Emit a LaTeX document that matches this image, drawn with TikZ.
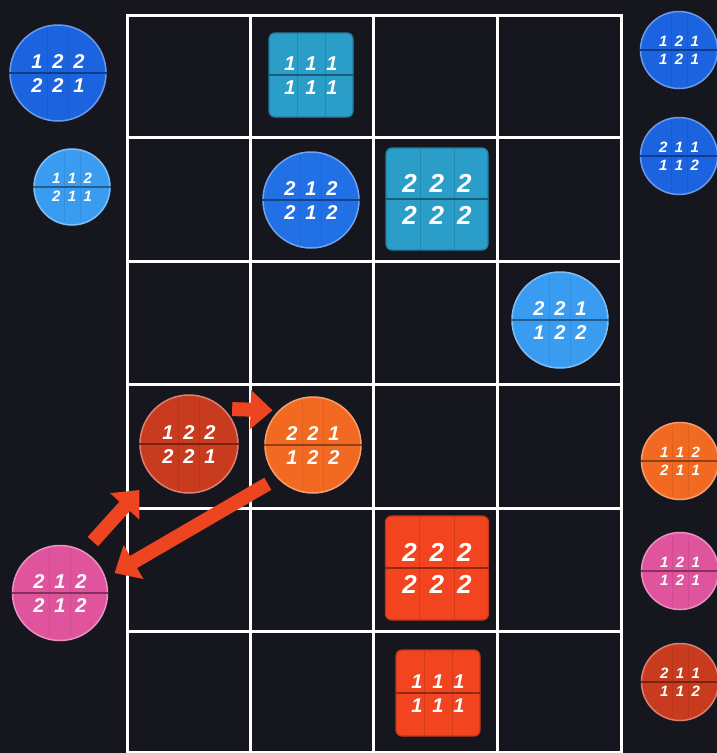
\documentclass[tikz,border=0pt]{standalone}
\usepackage{fontspec}
\setmainfont{Liberation Sans}
\usetikzlibrary{arrows.meta}
\definecolor{bg}{HTML}{16161F}
\definecolor{dblue}{HTML}{1C63E0}
\definecolor{lblue}{HTML}{3A9CF0}
\definecolor{mblue}{HTML}{2170E6}
\definecolor{tealtok}{HTML}{2A9DC8}
\definecolor{redtok}{HTML}{C93B1F}
\definecolor{orangetok}{HTML}{F26A22}
\definecolor{redsq}{HTML}{F2441F}
\definecolor{pinktok}{HTML}{E0549E}
\definecolor{arrowc}{HTML}{EE4521}
\newcommand\dgt[3]{\makebox[1.05em]{#1}\makebox[1.05em]{#2}\makebox[1.05em]{#3}}
\tikzset{
  gridl/.style={draw=white, line width=3pt},
  tokc/.style={circle, line width=1.5pt, inner sep=0pt},
  toks/.style={rectangle, rounded corners=6pt, line width=1.2pt, inner sep=0pt},
  dig/.style={text=white, inner sep=0pt},
  arr/.style={draw=arrowc, line width=14pt, -{Triangle[width=38pt,length=22pt]}},
}
% circle token: name, (x,y), diameter, colour, top, bottom, font size
\newcommand\ctok[7]{%
  \node[tokc, fill=#4, draw=#4!65!white, minimum size=#3] (#1) at #2 {};
  \draw[#4!60!black, line width=0.6pt, opacity=.2, shorten <=4pt, shorten >=4pt]
    ([xshift=-#7*0.52pt]#1.north) -- ([xshift=-#7*0.52pt]#1.south);
  \draw[#4!60!black, line width=0.6pt, opacity=.2, shorten <=4pt, shorten >=4pt]
    ([xshift=#7*0.52pt]#1.north) -- ([xshift=#7*0.52pt]#1.south);
  \draw[#4!60!black, line width=1.8pt] (#1.west) -- (#1.east);
  \node[dig, font=\fontsize{#7}{#7}\selectfont\bfseries\itshape, anchor=base, yshift=0.25*#7pt] (#1-t) at (#1.center) {\dgt#5};
  \node[dig, font=\fontsize{#7}{#7}\selectfont\bfseries\itshape, anchor=base, yshift=-0.98*#7pt] (#1-b) at (#1.center) {\dgt#6};
}
% square token: name, (x,y), width, height, colour, top, bottom, font size
\newcommand\stok[8]{%
  \node[toks, fill=#5, draw=#5!80!black, minimum width=#3, minimum height=#4] (#1) at #2 {};
  \draw[#5!60!black, line width=0.8pt, opacity=.3]
    ([xshift=-#3/6]#1.north) -- ([xshift=-#3/6]#1.south);
  \draw[#5!60!black, line width=0.8pt, opacity=.3]
    ([xshift=#3/6]#1.north) -- ([xshift=#3/6]#1.south);
  \draw[#5!60!black, line width=2pt] (#1.west) -- (#1.east);
  \node[dig, font=\fontsize{#8}{#8}\selectfont\bfseries\itshape, anchor=base, yshift=0.25*#8pt] (#1-t) at (#1.center) {\dgt#6};
  \node[dig, font=\fontsize{#8}{#8}\selectfont\bfseries\itshape, anchor=base, yshift=-0.98*#8pt] (#1-b) at (#1.center) {\dgt#7};
}
\begin{document}
\begin{tikzpicture}[x=1pt, y=-1pt]
\fill[bg] (0,0) rectangle (717,753);
\useasboundingbox (0,0) rectangle (717,753);
% grid
\draw[gridl] (127,15) rectangle (621,752);
\foreach \gx in {250,373,497} \draw[gridl] (\gx,15) -- (\gx,752);
\foreach \gy in {137,261,384,508,631} \draw[gridl] (127,\gy) -- (621,\gy);
% left tokens
\ctok{L1}{(58,73)}{96pt}{dblue}{{1}{2}{2}}{{2}{2}{1}}{20}
\ctok{L2}{(72,187)}{76pt}{lblue}{{1}{1}{2}}{{2}{1}{1}}{15}
\ctok{P1}{(60,593)}{95pt}{pinktok}{{2}{1}{2}}{{2}{1}{2}}{20}
% board tokens
\stok{T1}{(311,75)}{84pt}{84pt}{tealtok}{{1}{1}{1}}{{1}{1}{1}}{20}
\ctok{C1}{(311,200)}{96pt}{mblue}{{2}{1}{2}}{{2}{1}{2}}{20}
\stok{T2}{(437,199)}{102pt}{102pt}{tealtok}{{2}{2}{2}}{{2}{2}{2}}{26}
\ctok{C2}{(560,320)}{96pt}{lblue}{{2}{2}{1}}{{1}{2}{2}}{20}
\ctok{R1}{(189,444)}{98pt}{redtok}{{1}{2}{2}}{{2}{2}{1}}{20}
\ctok{O1}{(313,445)}{96pt}{orangetok}{{2}{2}{1}}{{1}{2}{2}}{20}
\stok{S1}{(437,568)}{103pt}{104pt}{redsq}{{2}{2}{2}}{{2}{2}{2}}{26}
\stok{S2}{(438,693)}{84pt}{86pt}{redsq}{{1}{1}{1}}{{1}{1}{1}}{20}
% right tokens
\ctok{Q1}{(679,50)}{77pt}{dblue}{{1}{2}{1}}{{1}{2}{1}}{15}
\ctok{Q2}{(679,156)}{77pt}{dblue}{{2}{1}{1}}{{1}{1}{2}}{15}
\ctok{Q3}{(680,461)}{77pt}{orangetok}{{1}{1}{2}}{{2}{1}{1}}{15}
\ctok{Q4}{(680,571)}{77pt}{pinktok}{{1}{2}{1}}{{1}{2}{1}}{15}
\ctok{Q5}{(680,682)}{77pt}{redtok}{{2}{1}{1}}{{1}{1}{2}}{15}
% arrows
\draw[arr, shorten <=8pt, shorten >=6pt] (R1.45) -- (O1.135);
\draw[arr, shorten <=13pt, shorten >=18pt] (P1.60) -- (R1.221);
\draw[arr, shorten <=11pt, shorten >=10pt] (O1.223) -- (P1.18);
\end{tikzpicture}
\end{document}
